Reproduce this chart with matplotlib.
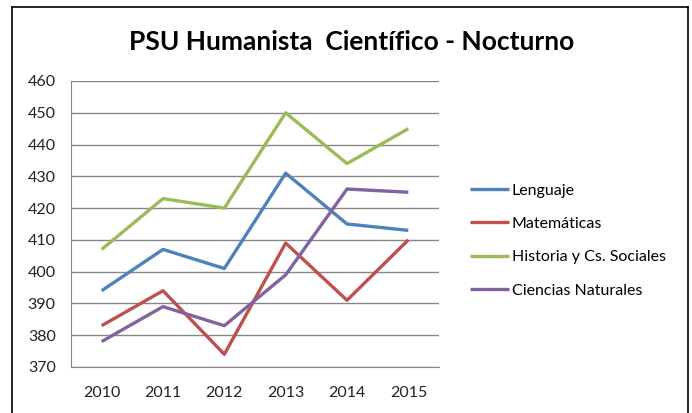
import matplotlib.pyplot as plt
from matplotlib.lines import Line2D

years = ["2010", "2011", "2012", "2013", "2014", "2015"]
lenguaje = [394, 407, 401, 431, 415, 413]
matematicas = [383, 394, 374, 409, 391, 410]
historia = [407, 423, 420, 450, 434, 445]
ciencias = [378, 389, 383, 399, 426, 425]

series = [
    ("Lenguaje", lenguaje, "#4F81BD"),
    ("Matemáticas", matematicas, "#C0504D"),
    ("Historia y Cs. Sociales", historia, "#9BBB59"),
    ("Ciencias Naturales", ciencias, "#8064A2"),
]

plt.rcParams['font.family'] = ['Lato', 'DejaVu Sans']

fig = plt.figure(figsize=(6.92, 4.13), dpi=100)
ax = fig.add_axes([71 / 692, 1 - 367 / 413, (439 - 71) / 692, (367 - 81) / 413])

x = list(range(len(years)))
for name, vals, col in series:
    ax.plot(x, vals, color=col, lw=2.4, label=name, solid_capstyle='butt')

ax.set_xlim(-0.5, len(years) - 0.5)
ax.set_ylim(370, 460)
ax.set_yticks(range(370, 461, 10))
ax.set_xticks(x)
ax.set_xticklabels(years)
ax.tick_params(length=0, labelsize=11.5, colors='#222222')
ax.tick_params(axis='y', pad=11)
ax.tick_params(axis='x', pad=14)
ax.yaxis.grid(True, color='#868686', lw=1)
ax.set_axisbelow(True)
for s in ['top', 'right']:
    ax.spines[s].set_visible(False)
ax.spines['left'].set_color('#868686')
ax.spines['bottom'].set_color('#868686')

fig.text(352 / 692, 1 - 42 / 413, "PSU Humanista  Científico - Nocturno",
         ha='center', va='center', fontsize=19, fontweight='bold')

fig.legend(loc='upper left', bbox_to_anchor=(464 / 692, 1 - 177 / 413),
           frameon=False, fontsize=11.5, handlelength=2.4, handletextpad=0.2,
           labelspacing=1.2, borderaxespad=0)

# outer chart frame (cropped at the bottom)
fig.add_artist(Line2D([12 / 692, 12 / 692], [0, 1 - 7 / 413], color='black', lw=1.2, transform=fig.transFigure))
fig.add_artist(Line2D([12 / 692, 688 / 692], [1 - 7 / 413, 1 - 7 / 413], color='black', lw=1.2, transform=fig.transFigure))
fig.add_artist(Line2D([688 / 692, 688 / 692], [0, 1 - 7 / 413], color='black', lw=1.2, transform=fig.transFigure))

fig.savefig("out.png", dpi=100)
